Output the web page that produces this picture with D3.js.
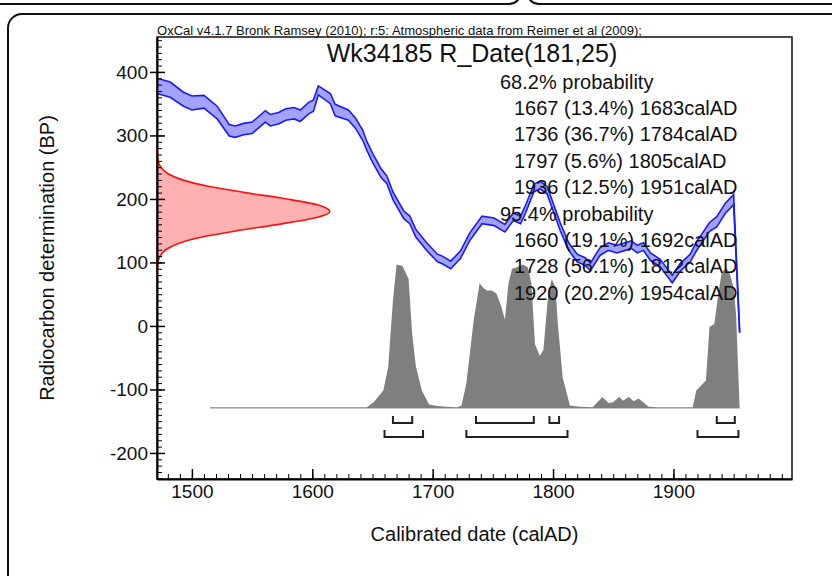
<!DOCTYPE html>
<html><head><meta charset="utf-8">
<script src="https://cdn.jsdelivr.net/npm/d3@7"></script>
<style>
body{margin:0;background:#fff}
svg{display:block}
text{font-family:"Liberation Sans",Arial,Helvetica,sans-serif;fill:#111}
</style>
</head><body>
<svg id="c" width="832" height="576"></svg>
<script>
// ---------- data ----------
const header = "OxCal v4.1.7 Bronk Ramsey (2010); r:5: Atmospheric data from Reimer et al (2009);";
const title = "Wk34185 R_Date(181,25)";
const xLabel = "Calibrated date (calAD)";
const yLabel = "Radiocarbon determination (BP)";
const xTicks = [1500, 1600, 1700, 1800, 1900];
const yTicks = [400, 300, 200, 100, 0, -100, -200];

// calibration curve (IntCal09 atmospheric), mid BP and 1-sigma
const calYears = [1471,1482,1493,1500,1510,1521,1531,1536,1543,1550,1561,1565,1572,1578,1585,1590,1597,1601,1605,1615,1619,1630,1636,1642,1645,1650,1657,1662,1667,1676,1681,1686,1695,1704,1708,1715,1723,1731,1741,1751,1760,1767,1773,1777,1784,1789,1795,1799,1806,1813,1820,1827,1831,1839,1846,1853,1860,1865,1870,1875,1881,1889,1899,1906,1914,1919,1930,1936,1943,1950,1955];
const calBP = [378,372,357,351,353,336,308,306,310,312,330,324,327,333,335,331,343,347,371,358,340,332,319,300,285,265,241,230,205,175,167,146,125,107,104,96,112,141,167,164,154,172,167,183,217,222,214,193,156,125,107,101,93,117,125,121,125,128,121,125,109,99,74,93,107,125,156,164,185,199,-10];
const calErr = [12,12,11,11,10,10,9,9,9,9,9,9,9,9,9,9,9,9,7,8,9,8,8,8,7,7,7,6,6,6,6,6,6,6,6,6,6,6,6,6,6,6,6,6,6,6,6,6,6,6,6,6,6,6,6,6,6,6,6,6,6,6,6,6,6,7,7,8,8,8,1];

// radiocarbon measurement R_Date(181,25), relative density by BP
const rdBP = [80,90,100,110,120,130,140,150,160,170,180,190,200,210,220,230,240,250,260,270,280];
const rdDensity = [0.0003,0.0013,0.0053,0.018,0.051,0.125,0.26,0.463,0.703,0.908,0.999,0.937,0.749,0.51,0.296,0.146,0.062,0.022,0.0068,0.0018,0.0004];

// calibrated probability distribution
const postYears = [1515,1645,1651,1659,1663,1667,1670,1675,1680,1683,1686,1691,1697,1704,1712,1720,1724,1728,1734,1739,1742,1745,1749,1753,1757,1760,1763,1766,1770,1775,1779,1782,1785,1789,1792,1796,1799,1802,1804,1808,1814,1822,1833,1841,1846,1850,1855,1858,1863,1867,1871,1875,1879,1886,1916,1919,1927,1930,1934,1937,1940,1944,1947,1950,1952,1955];
const postDensity = [0.003,0.003,0.04,0.12,0.28,0.74,0.99,0.98,0.89,0.51,0.29,0.12,0.025,0.014,0.009,0.004,0.017,0.17,0.6,0.86,0.83,0.81,0.81,0.79,0.70,0.61,0.86,0.96,0.97,0.99,0.97,0.86,0.44,0.36,0.40,0.79,0.89,0.83,0.58,0.21,0.017,0.008,0.005,0.076,0.035,0.04,0.078,0.05,0.076,0.046,0.066,0.04,0.01,0.004,0.004,0.12,0.19,0.56,0.58,0.77,0.93,0.97,0.92,0.83,0.65,0];

// ranges
const label68 = "68.2% probability";
const from68 = [1667, 1736, 1797, 1936];
const to68   = [1683, 1784, 1805, 1951];
const pct68  = ["13.4", "36.7", "5.6", "12.5"];
const label95 = "95.4% probability";
const from95 = [1660, 1728, 1920];
const to95   = [1692, 1812, 1954];
const pct95  = ["19.1", "56.1", "20.2"];

// ---------- layout ----------
const svg = d3.select("#c");
const L = 157, R = 792, T = 37, B = 479;
const x = d3.scaleLinear().domain([1471, 1998.5]).range([L, R]);
const y = d3.scaleLinear().domain([-241, 455]).range([B, T]);
const yPost = d3.scaleLinear().domain([0, 1]).range([408, 263]);
const xRd = d3.scaleLinear().domain([0, 1]).range([L, 330]);

// outer panel boxes
svg.append("rect").attr("x", -20).attr("y", -200).attr("width", 541).attr("height", 204)
  .attr("rx", 12).attr("fill", "none").attr("stroke", "#111").attr("stroke-width", 2);
svg.append("rect").attr("x", 527).attr("y", -200).attr("width", 400).attr("height", 204)
  .attr("rx", 12).attr("fill", "none").attr("stroke", "#111").attr("stroke-width", 2);
svg.append("rect").attr("x", 8).attr("y", 14).attr("width", 900).attr("height", 700)
  .attr("rx", 14).attr("fill", "none").attr("stroke", "#111").attr("stroke-width", 2);

// header text
svg.append("text").attr("x", L).attr("y", 35).attr("font-size", 13)
  .attr("textLength", 485).attr("lengthAdjust", "spacingAndGlyphs").text(header);

// plot frame
svg.append("rect").attr("x", L).attr("y", T).attr("width", R - L).attr("height", B - T)
  .attr("fill", "none").attr("stroke", "#111").attr("stroke-width", 1.5);

const g = svg.append("g");

// calibrated distribution
g.append("line").attr("x1", x(postYears[0])).attr("x2", x(postYears[postYears.length-1]))
  .attr("y1", yPost(0)).attr("y2", yPost(0)).attr("stroke", "#c8c8c8").attr("stroke-width", 2);
g.append("path").datum(postYears.map((d,i)=>[d, postDensity[i]]))
  .attr("d", d3.area().x(d=>x(d[0])).y0(yPost(0)).y1(d=>yPost(d[1])))
  .attr("fill", "#7f7f7f");

// brackets
function brackets(from, to, yy) {
  from.forEach((f, i) => {
    const x1 = x(f), x2 = x(to[i]);
    g.append("path").attr("d", `M${x1},${yy-7}V${yy}H${x2}V${yy-7}`)
      .attr("fill", "none").attr("stroke", "#222").attr("stroke-width", 2);
  });
}
brackets(from68, to68, 423);
brackets(from95, to95, 437);

// calibration curve band
const cal = calYears.map((d,i)=>({yr:d, bp:calBP[i], e:calErr[i]}));
g.append("path").datum(cal)
  .attr("d", d3.area().x(d=>x(d.yr)).y0(d=>y(d.bp - d.e)).y1(d=>y(d.bp + d.e)))
  .attr("fill", "#a3a3ff");
g.append("path").datum(cal)
  .attr("d", d3.line().x(d=>x(d.yr)).y(d=>y(d.bp + d.e)))
  .attr("fill", "none").attr("stroke", "#1a1aff").attr("stroke-width", 1.6);
g.append("path").datum(cal)
  .attr("d", d3.line().x(d=>x(d.yr)).y(d=>y(d.bp - d.e)))
  .attr("fill", "none").attr("stroke", "#1a1aff").attr("stroke-width", 1.6);

// measurement distribution
const rd = rdBP.map((d,i)=>[d, rdDensity[i]]);
g.append("path").datum(rd)
  .attr("d", d3.area().curve(d3.curveMonotoneY).y(d=>y(d[0])).x0(xRd(0)).x1(d=>xRd(d[1])))
  .attr("fill", "#ffb0b0");
g.append("path").datum(rd)
  .attr("d", d3.line().curve(d3.curveMonotoneY).y(d=>y(d[0])).x(d=>xRd(d[1])))
  .attr("fill", "none").attr("stroke", "#ff1010").attr("stroke-width", 1.6);

// axes
const xMinor = svg.append("g").attr("transform", `translate(0,${B})`)
  .call(d3.axisBottom(x).tickValues(d3.range(1480, 1999, 10)).tickSize(-5).tickFormat(""));
xMinor.select(".domain").remove();
const xAx = svg.append("g").attr("transform", `translate(0,${B})`)
  .call(d3.axisBottom(x).tickValues(xTicks).tickSizeInner(-10).tickSizeOuter(0).tickPadding(6).tickFormat(d => String(d)));
xAx.select(".domain").attr("stroke-width", 2);
xAx.selectAll("text").attr("font-size", 19).attr("fill", "#222");
xAx.selectAll(".tick line").attr("stroke-width", 1.5);

const yMinor = svg.append("g").attr("transform", `translate(${L},0)`)
  .call(d3.axisLeft(y).tickValues(d3.range(-240, 451, 10)).tickSize(-5).tickFormat(""));
yMinor.select(".domain").remove();
const yAx = svg.append("g").attr("transform", `translate(${L},0)`)
  .call(d3.axisLeft(y).tickValues(yTicks).tickSizeInner(7).tickSizeOuter(0).tickPadding(2).tickFormat(d => String(d)));
yAx.select(".domain").attr("stroke-width", 2);
yAx.selectAll(".tick line").attr("x2", 8).attr("x1", -7).attr("stroke-width", 1.5);
yAx.selectAll("text").attr("font-size", 19).attr("fill", "#222");

// axis labels
svg.append("text").attr("x", (L + R) / 2).attr("y", 541).attr("text-anchor", "middle")
  .attr("font-size", 20).text(xLabel);
svg.append("text").attr("transform", `translate(54,${(T + B) / 2}) rotate(-90)`)
  .attr("text-anchor", "middle").attr("font-size", 20).text(yLabel);

// title
svg.append("text").attr("x", 472).attr("y", 62).attr("text-anchor", "middle")
  .attr("font-size", 25).text(title);

// legend text
const lines = [{t: label68, x: 500}];
from68.forEach((f,i)=>lines.push({t: `${f} (${pct68[i]}%) ${to68[i]}calAD`, x: 514}));
lines.push({t: label95, x: 500});
from95.forEach((f,i)=>lines.push({t: `${f} (${pct95[i]}%) ${to95[i]}calAD`, x: 514}));
svg.selectAll("text.leg").data(lines).join("text").attr("class", "leg")
  .attr("x", d=>d.x).attr("y", (d,i)=>88.5 + i*26.4)
  .attr("font-size", 20).text(d=>d.t);
</script>
</body></html>
